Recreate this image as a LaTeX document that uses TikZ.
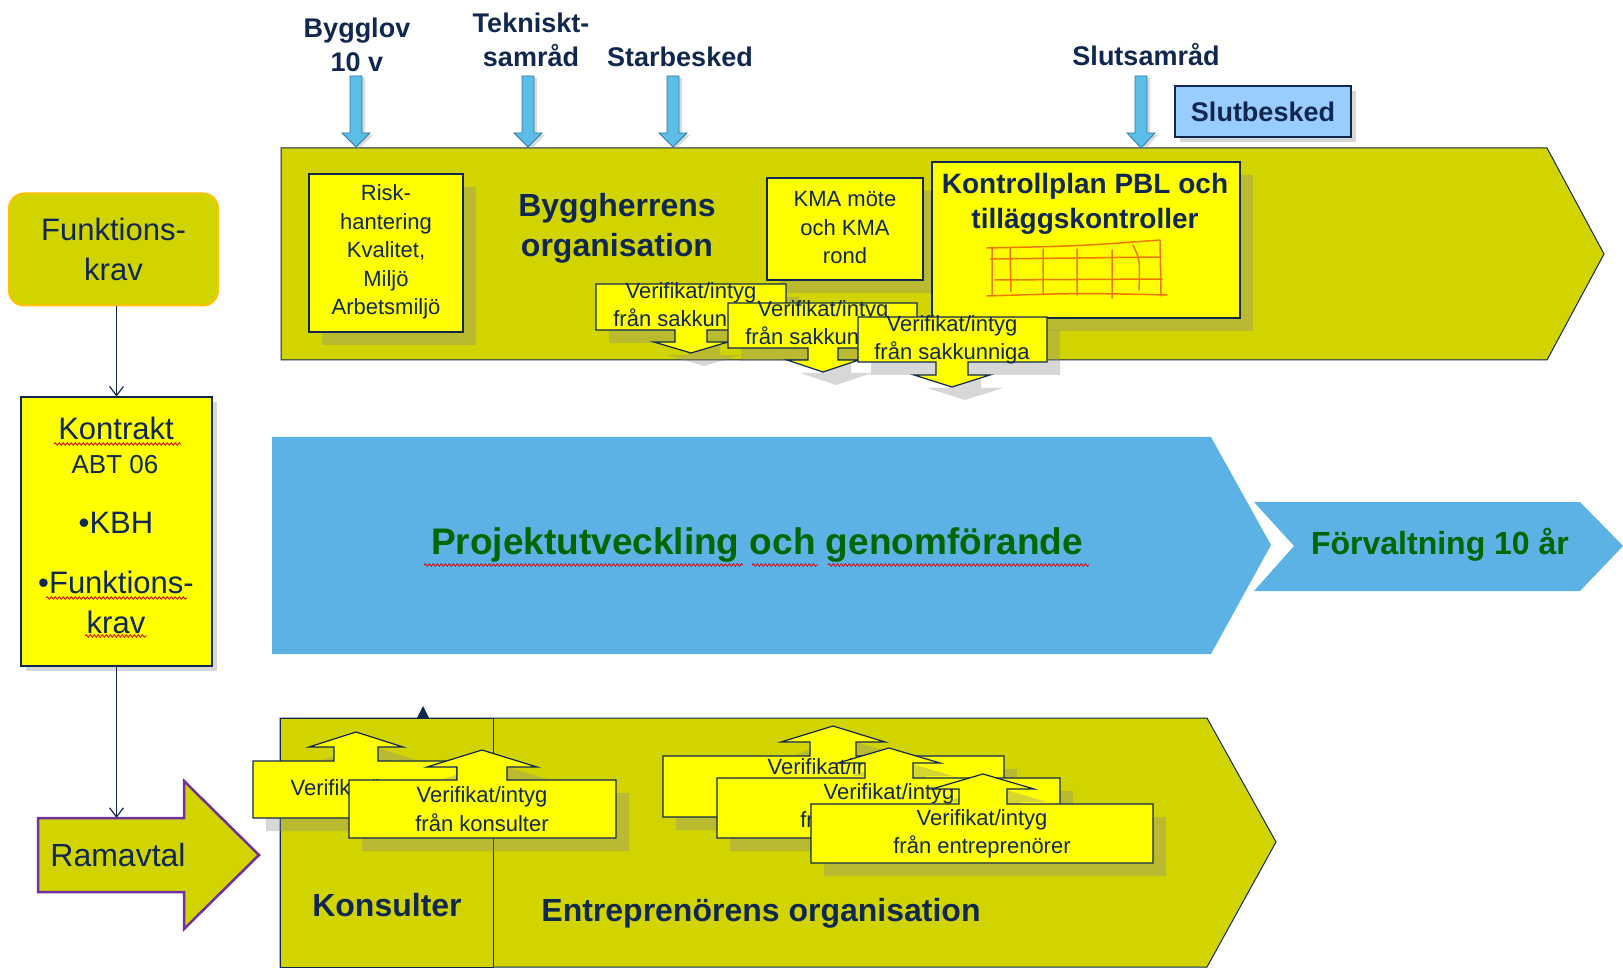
\documentclass[tikz,border=0pt]{standalone}
\usepackage{fontspec}
\setmainfont{Liberation Sans}
\usetikzlibrary{positioning, calc, shadows, arrows.meta, decorations.pathmorphing}
\definecolor{navy}{RGB}{16,40,80}
\definecolor{chevfill}{RGB}{210,212,0}
\definecolor{boxfill}{RGB}{255,255,0}
\definecolor{skyfill}{RGB}{92,178,228}
\definecolor{pinfill}{RGB}{90,190,230}
\definecolor{pinline}{RGB}{50,120,170}
\definecolor{slutfill}{RGB}{153,204,255}
\definecolor{leaf}{RGB}{0,100,0}
\definecolor{gridline}{RGB}{240,120,0}
\definecolor{goldline}{RGB}{255,192,0}
\definecolor{ramline}{RGB}{112,48,160}
\tikzstyle{Link} = [
%connector between the boxes on the left:
draw=navy, line width=1.2pt,
-{Straight Barb[length=9pt,width=14pt]}
]
% callout: box with an arrow on one side
\newcommand{\callout}[9]{%
  \draw[calloutbox] (#3,#1) -- ({#5-#6},#1) -- ({#5-#6},#8) -- ({#5-#7},#8) -- (#5,#9)
    -- ({#5+#7},#8) -- ({#5+#6},#8) -- ({#5+#6},#1) -- (#4,#1) -- (#4,#2) -- (#3,#2) -- cycle;}
% milestone arrow pointing down onto the top plate
\newcommand{\pin}[2]{%
  \draw[pinarrow] ({#1-6},76) -- ({#1+6},76) -- ({#1+6},133) -- ({#1+14},133) -- (#1,#2)
    -- ({#1-14},133) -- ({#1-6},133) -- cycle;}
\begin{document}
\begin{tikzpicture}[x=1pt, y=-1pt,
			plate/.style = {fill=chevfill, draw=navy, line width=1pt},
			yellow/.style = {fill=boxfill, draw=navy, line width=1.2pt},
			shade/.style = {drop shadow={shadow xshift=13pt, shadow yshift=-13pt, fill=black!45, opacity=.35}},
			thinshade/.style = {drop shadow={shadow xshift=5pt, shadow yshift=-5pt, fill=black!45, opacity=.35}},
			calloutbox/.style = {yellow, shade},
			pinarrow/.style = {fill=pinfill, draw=pinline, line width=.8pt, drop shadow={shadow xshift=3pt, shadow yshift=-2pt, fill=black!40, opacity=.35}},
			mile/.style = {text=navy, font=\bfseries\fontsize{27}{34}\selectfont, align=center},
			title/.style = {text=navy, font=\bfseries\fontsize{32}{40}\selectfont, align=center},
			small/.style = {text=navy, font=\fontsize{22}{28.5}\selectfont, align=center},
			plain/.style = {text=navy, font=\fontsize{31}{40}\selectfont, align=center},
			green/.style = {text=leaf, font=\bfseries\fontsize{37}{44}\selectfont},
			wavy/.style = {draw=red!85!black, line width=.8pt, decorate, decoration={snake, amplitude=1.3pt, segment length=4pt}},
		]
		\useasboundingbox (0,0) rectangle (1623,973);

		% milestones
		\node[mile](bygglov) at (357,45){Bygglov\\10 v};
		\node[mile](teknisk) at (531,40){Tekniskt-\\samråd};
		\node[mile](start) at (680,57){Starbesked};
		\node[mile](slutsam) at (1146,55){Slutsamråd};
		\node[mile, fill=slutfill, draw=navy, line width=1.2pt, minimum width=176pt, minimum height=51pt, thinshade](slutbesked) at (1263,111.5){Slutbesked};

		% byggherrens plate
		\draw[plate] (281,148) -- (1547,148) -- (1604,254) -- (1547,360) -- (281,360) -- cycle;
		\pin{356}{147}
		\pin{528}{147}
		\pin{673}{147}
		\pin{1141}{148}

		\node[yellow, shade, minimum width=154pt, minimum height=158pt](riskbox) at (386,253){};
		\node[small](risk) at (386,252){Risk-\\hantering\\Kvalitet,\\Miljö\\Arbetsmiljö};
		\node[title](bygg) at (617,228){Byggherrens\\organisation};
		\node[yellow, shade, minimum width=156pt, minimum height=102pt](kmabox) at (845,229){};
		\node[small](kma) at (845,228){KMA möte\\och KMA\\rond};
		\node[yellow, shade, minimum width=308pt, minimum height=156pt](planbox) at (1086,240){};
		\node[text=navy, font=\bfseries\fontsize{28}{35}\selectfont, align=center](plan) at (1085,204){Kontrollplan PBL och\\tilläggskontroller};
		% hand drawn checklist
		\draw[gridline, line width=1.5pt, line cap=round]
			(987,248) .. controls (1080,246) .. (1160,240)
			(990,259) -- (1160,257)
			(995,280) -- (1162,279)
			(987,296) .. controls (1080,293) .. (1167,295)
			(992,247) -- (992,295)  (1010,248) -- (1011,292)
			(1043,249) -- (1043,295) (1077,249) -- (1077,295)
			(1112,250) -- (1112,298) (1133,245) .. controls (1140,260) .. (1139,290)
			(1160,241) -- (1161,296);

		\callout{330}{284}{596}{786}{691}{16}{37}{342}{353}
		\node[small](sak1) at (691,307){Verifikat/intyg\\från sakkunniga};
		\callout{348}{303}{728}{917}{823}{15}{36}{360}{372}
		\node[small](sak2) at (823,325){Verifikat/intyg\\från sakkunniga};
		\callout{362}{317}{858}{1047}{952}{16}{38}{375}{387}
		\node[small](sak3) at (952,340){Verifikat/intyg\\från sakkunniga};

		% main process
		\fill[skyfill] (272,437) -- (1211,437) -- (1271,545) -- (1211,654) -- (272,654) -- cycle;
		\node[green](proj) at (757,545){Projektutveckling och genomförande};
		\draw[wavy] (424,565) -- (743,565);
		\draw[wavy] (752,565) -- (818,565);
		\draw[wavy] (828,565) -- (1089,565);
		\fill[skyfill] (1254,502) -- (1580,502) -- (1623,546) -- (1580,591) -- (1254,591) -- (1294,546) -- cycle;
		\node[green, font=\bfseries\fontsize{32}{40}\selectfont](forv) at (1440,545){Förvaltning 10 år};

		% entreprenörens plate
		\draw[plate] (280,718) -- (1207,718) -- (1276,842) -- (1207,967) -- (280,967) -- cycle;
		\draw[plate] (280,718) rectangle (493,967);
		\fill[navy] (417,718) -- (423,706) -- (429,718) -- cycle;
		\node[title](kons) at (387,905){Konsulter};
		\node[title](entr) at (761,913){Entreprenörens organisation};

		\callout{761}{818}{253}{457}{356}{22}{47}{747}{732}
		\node[small](kon1) at (356,790){Verifikat/intyg};
		\callout{780}{838}{349}{616}{482}{25}{55}{767}{750}
		\node[small](kon2) at (482,809){Verifikat/intyg\\från konsulter};
		\callout{756}{817}{663}{1004}{833}{23}{52}{742}{726}
		\node[small](ent1) at (833,769){Verifikat/intyg};
		\callout{778}{838}{717}{1060}{889}{24}{51}{763}{748}
		\node[small](ent2) at (889,808){Verifikat/intyg\\från entreprenörer};
		\callout{804}{863}{811}{1153}{983}{24}{51}{789}{774}
		\node[small](ent3) at (982,834){Verifikat/intyg\\från entreprenörer};

		% left column
		\node[plain, fill=chevfill, draw=goldline, line width=2pt, rounded corners=15pt, minimum width=209pt, minimum height=112pt](fk) at (113.5,249.5){Funktions-\\krav};
		\node[yellow, thinshade, minimum width=191pt, minimum height=269pt](kontrakt) at (116.5,531.5){};
		\node[plain](kt1) at (116,428){Kontrakt};
		\node[text=navy, font=\fontsize{26}{30}\selectfont](kt2) at (115,465){ABT 06};
		\node[plain](kt3) at (116,523){•KBH};
		\node[plain](kt4) at (116,602){•Funktions-\\krav};
		\draw[wavy] (54,444) -- (181,444);
		\draw[wavy] (46,598) -- (187,598);
		\draw[wavy] (85,636) -- (147,636);

		\draw[fill=chevfill, draw=ramline, line width=2.5pt] (38,818) -- (184,818) -- (184,781) -- (259,855) -- (184,929) -- (184,892) -- (38,892) -- cycle;
		\node[plain, font=\fontsize{32}{40}\selectfont, minimum width=146pt, minimum height=74pt](ram) at (118,855){Ramavtal};

		\draw[Link] (kontrakt.north |- fk.south) -- (kontrakt.north);
		\draw[Link] (kontrakt.south) -- (kontrakt.south |- ram.north);
	\end{tikzpicture}
\end{document}
